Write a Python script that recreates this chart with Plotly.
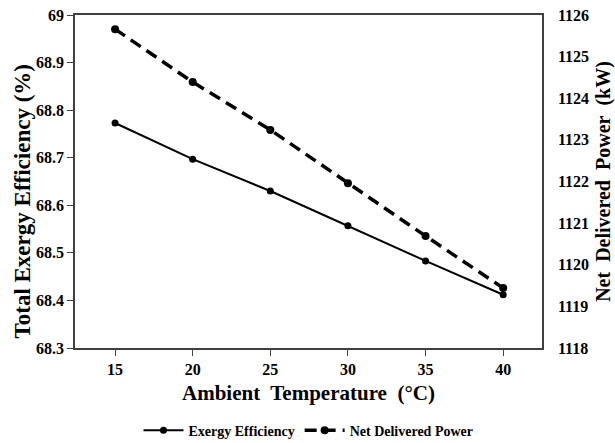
import plotly.graph_objects as go

temps = [15, 20, 25, 30, 35, 40]
exergy_eff = [68.773, 68.697, 68.630, 68.557, 68.483, 68.412]
net_power = [1125.66, 1124.39, 1123.24, 1121.96, 1120.69, 1119.44]

left_ticks = [68.3, 68.4, 68.5, 68.6, 68.7, 68.8, 68.9, 69]
left_labels = ["68.3", "68.4", "68.5", "68.6", "68.7", "68.8", "68.9", "69"]
right_ticks = [1118, 1119, 1120, 1121, 1122, 1123, 1124, 1125, 1126]

font_family = "Liberation Serif"

fig = go.Figure()
fig.add_trace(go.Scatter(
    x=temps, y=exergy_eff, name="Exergy Efficiency", mode="lines+markers",
    line=dict(color="black", width=2),
    marker=dict(color="black", size=7),
))
fig.add_trace(go.Scatter(
    x=temps, y=net_power, name="Net Delivered Power", mode="lines+markers",
    line=dict(color="black", width=3.5, dash="12px,7px"),
    marker=dict(color="black", size=8),
    yaxis="y2",
))

axis_color = "#404040"
tickfont = dict(family=font_family, size=16, color="black", weight="bold")

fig.add_annotation(
    text="Total Exergy Efficiency (%)",
    xref="paper", yref="paper", x=0, xshift=-53, y=0.5, yshift=-20,
    xanchor="center", yanchor="middle", textangle=-90, showarrow=False,
    font=dict(family=font_family, size=23, color="black", weight="bold"),
)

fig.update_layout(
    width=615, height=443,
    margin=dict(l=75, r=73, t=15, b=95, autoexpand=False),
    paper_bgcolor="white", plot_bgcolor="white",
    font=dict(family=font_family, color="black", size=14),
    showlegend=True,
    legend=dict(orientation="h", x=0.5, xanchor="center", y=-0.2, yanchor="top",
                font=dict(family=font_family, size=14, color="black", weight="bold"),
                itemwidth=40),
    xaxis=dict(
        range=[12.42, 42.5], tickvals=temps, ticks="outside", ticklen=6,
        tickcolor=axis_color, showline=True, linecolor=axis_color, linewidth=1.5,
        mirror=True, showgrid=False, zeroline=False, automargin=False,
        tickfont=tickfont,
        title=dict(text="Ambient&nbsp; Temperature&nbsp; (°C)", standoff=8,
                   font=dict(family=font_family, size=21, color="black", weight="bold")),
    ),
    yaxis=dict(
        range=[68.3, 69], tickvals=left_ticks, ticktext=left_labels,
        ticks="outside", ticklen=6, tickcolor=axis_color, automargin=False,
        showline=True, linecolor=axis_color, linewidth=1.5, showgrid=False, zeroline=False,
        tickfont=tickfont,
    ),
    yaxis2=dict(
        range=[1118, 1126], tickvals=right_ticks,
        overlaying="y", side="right", ticks="", showline=True, linecolor=axis_color,
        linewidth=1.5, showgrid=False, zeroline=False, ticklabelstandoff=11,
        automargin=False,
        tickfont=tickfont,
        title=dict(text="Net&nbsp; Delivered&nbsp; Power&nbsp; (kW)", standoff=18,
                   font=dict(family=font_family, size=20, color="black", weight="bold")),
    ),
)

fig.write_html("out.html", config={"displayModeBar": False},
               post_script="document.body.style.margin='0';")
